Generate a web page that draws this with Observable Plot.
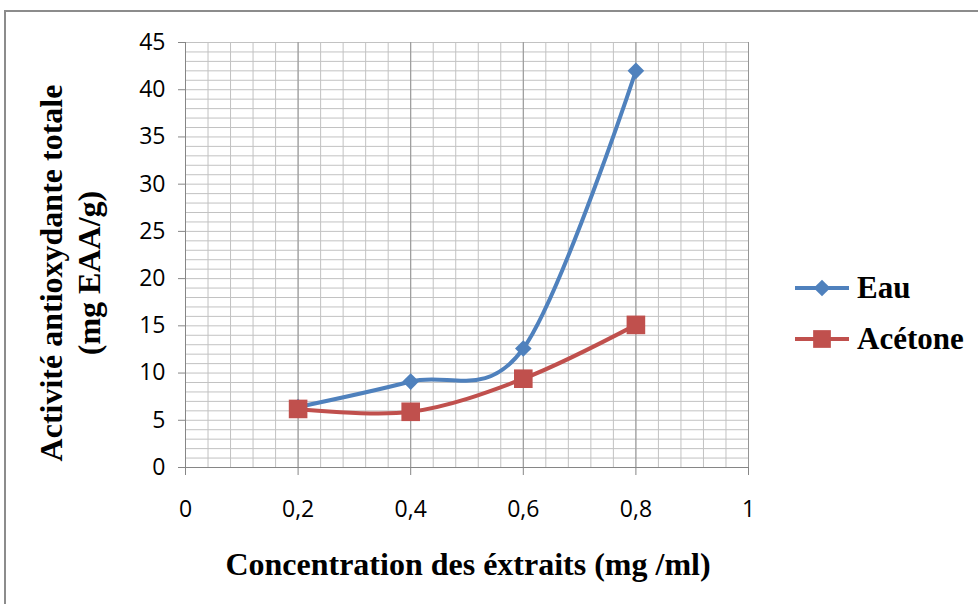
<!DOCTYPE html>
<html><head><meta charset="utf-8">
<script src="https://cdn.jsdelivr.net/npm/d3@7"></script>
<script src="https://cdn.jsdelivr.net/npm/@observablehq/plot@0.6"></script>
<style>body{margin:0;background:#fff}#chart{position:relative;width:978px;height:604px}</style>
</head><body><div id="chart"></div>
<script>
const concentrations = [0.2, 0.4, 0.6, 0.8];
const eau = [6.4, 9.1, 12.6, 42.0];
const acetone = [6.2, 5.9, 9.4, 15.1];
const seriesNames = ["Eau", "Acétone"];
const seriesColors = ["#4F81BD", "#C0504D"];
const xTicks = [0, 0.2, 0.4, 0.6, 0.8, 1];
const yTicks = [0, 5, 10, 15, 20, 25, 30, 35, 40, 45];
const yTitle = ["Activité antioxydante totale", "(mg EAA/g)"];
const xTitle = "Concentration des éxtraits (mg /ml)";

const data = [
  ...concentrations.map((c, i) => ({x: c, y: eau[i], s: seriesNames[0]})),
  ...concentrations.map((c, i) => ({x: c, y: acetone[i], s: seriesNames[1]}))
];
const minorX = d3.range(0, 1.0001, 0.04).map(v => +v.toFixed(2));
const minorY = d3.range(0, 46, 1);
const fmt = d => String(+d.toFixed(1)).replace(".", ",");

const W = 978, H = 604;
const plot = Plot.plot({
  width: W, height: H,
  marginLeft: 185, marginRight: 230, marginTop: 42, marginBottom: 137,
  style: {fontFamily: "'Open Sans', sans-serif", fontSize: "23px", color: "#000", background: "#fff"},
  x: {domain: [0, 1], axis: null},
  y: {domain: [0, 45], axis: null},
  color: {domain: seriesNames, range: seriesColors},
  marks: [
    Plot.gridX(minorX, {stroke: "#c2c2c2", strokeOpacity: 1, strokeWidth: 1}),
    Plot.gridY(minorY, {stroke: "#c2c2c2", strokeOpacity: 1, strokeWidth: 1}),
    Plot.gridX(xTicks, {stroke: "#969696", strokeOpacity: 1, strokeWidth: 1}),
    Plot.axisY(yTicks, {tickSize: 7, tickPadding: 13, stroke: "#868686", tickFormat: d => d, fill: "#000", label: null}),
    Plot.axisX(xTicks, {tickSize: 8, tickPadding: 25, stroke: "#868686", tickFormat: fmt, fill: "#000", label: null}),
    Plot.ruleX([0], {stroke: "#868686"}),
    Plot.ruleY([0], {stroke: "#868686"}),
    Plot.line(data, {x: "x", y: "y", z: "s", stroke: "s", strokeWidth: 4, curve: d3.curveCatmullRom.alpha(0)}),
    Plot.dot(data.filter(d => d.s === seriesNames[0]), {x: "x", y: "y", fill: seriesColors[0], symbol: "diamond2", r: 7.5}),
    Plot.dot(data.filter(d => d.s === seriesNames[1]), {x: "x", y: "y", fill: seriesColors[1], symbol: "square", r: 10.5})
  ]
});
document.getElementById("chart").appendChild(plot);

const svg = d3.select(plot);
// outer frame
svg.insert("rect", ":first-child").attr("x", 5).attr("y", 11).attr("width", W).attr("height", H)
  .attr("fill", "none").attr("stroke", "#8c8c8c").attr("stroke-width", 2);

const serif = "'Liberation Serif', 'Times New Roman', serif";
// y title
const yt = svg.append("text").attr("transform", "translate(62,273) rotate(-90)")
  .attr("text-anchor", "middle").attr("font-family", serif).attr("font-weight", "bold").attr("font-size", 32);
yt.append("tspan").attr("x", 0).attr("y", 0).text(yTitle[0]);
yt.append("tspan").attr("x", 0).attr("y", 38).text(yTitle[1]);
// x title
svg.append("text").attr("x", 468).attr("y", 575).attr("text-anchor", "middle")
  .attr("font-family", serif).attr("font-weight", "bold").attr("font-size", 32).text(xTitle);

// legend
seriesNames.forEach((name, i) => {
  const y = 288 + i * 51;
  const g = svg.append("g");
  g.append("line").attr("x1", 795).attr("x2", 849).attr("y1", y).attr("y2", y)
    .attr("stroke", seriesColors[i]).attr("stroke-width", 4);
  const sym = i === 0 ? d3.symbol(d3.symbolDiamond2, 7.5 * 7.5 * Math.PI)() : d3.symbol(d3.symbolSquare, 10 * 10 * Math.PI)();
  g.append("path").attr("d", sym).attr("transform", `translate(822,${y})`).attr("fill", seriesColors[i]);
  g.append("text").attr("x", 857).attr("y", y + 10).attr("text-anchor", "start").attr("font-family", serif)
    .attr("font-weight", "bold").attr("font-size", 31).text(name);
});
</script></body></html>
